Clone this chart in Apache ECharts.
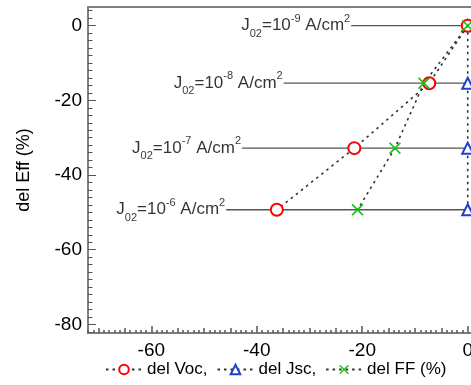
<!DOCTYPE html>
<html>
<head>
<meta charset="utf-8">
<script src="https://cdn.jsdelivr.net/npm/echarts@6.0.0/dist/echarts.min.js"></script>
<style>
  html, body { margin: 0; padding: 0; background: #fff; }
  #chart { width: 471px; height: 385px; }
</style>
</head>
<body>
<div id="chart"></div>
<script>
// del Eff (%) for each J02 level
const levelY = [0, -15.4, -32.8, -49.3];
const levelExp = ["-9", "-8", "-7", "-6"];
// where the horizontal J02 line starts (x value)
const levelLineStart = [-22.1, -34.9, -42.8, -45.8];

const delVoc = [0, -7.3, -21.5, -36.2];
const delJsc = [0, 0, 0, 0];
const delFF = [0, -8.3, -13.8, -20.9];

const xMajor = [-60, -40, -20, 0];
const yMajor = [-80, -60, -40, -20, 0];

function range(a, b, step) {
  const out = [];
  for (let v = a; v <= b + 1e-9; v += step) out.push(v);
  return out;
}
const xMid = range(-70, 0, 5);
const xMinor = range(-72, 0, 1);
const yMinor = range(-82, 4, 2);

const X_MIN = -72, X_MAX = 1;
const Y_MIN = -82.3, Y_MAX = 5;
const axisGray = "#808080";
const font = "Liberation Sans, Arial, sans-serif";

const pairs = (xs) => xs.map((x, i) => [x, levelY[i]]);

const dotted = { color: "#333", width: 1.6, type: [2.5, 4] };

// the bottom axis is three stacked layers so it gets 3 tick lengths
function xAxisLayer(ticks, len, labels) {
  return {
    type: "value", min: X_MIN, max: X_MAX, position: "bottom",
    axisLine: { show: true, onZero: false, lineStyle: { color: axisGray, width: 2 } },
    axisTick: { show: true, inside: true, length: len, customValues: ticks,
      lineStyle: { color: "#555", width: 1.5 } },
    axisLabel: labels
      ? { show: true, customValues: xMajor, color: "#000", fontSize: 19, fontFamily: font, margin: 8 }
      : { show: false },
    splitLine: { show: false }
  };
}

const lineSeries = levelY.map((y, i) => ({
  type: "line",
  data: [[levelLineStart[i], y], [0, y]],
  symbol: "none",
  silent: true,
  lineStyle: { color: "#555", width: 1.3, type: "solid" },
  z: 1
}));

const chart = echarts.init(document.getElementById("chart"));
chart.setOption({
  animation: false,
  grid: {
    left: 88, top: 7, right: -2, bottom: 52,
    outerBoundsMode: "none"
  },
  legend: {
    data: ["del Voc,", "del Jsc,", "del FF (%)"],
    left: 100, bottom: 2,
    itemWidth: 36, itemHeight: 12, itemGap: 9,
    textStyle: { fontSize: 17, fontFamily: font, color: "#000" }
  },
  xAxis: [
    xAxisLayer(xMajor, 7, true),
    xAxisLayer(xMid, 5, false),
    xAxisLayer(xMinor, 3, false),
    {
      // top frame line
      type: "value", min: X_MIN, max: X_MAX, position: "top",
      axisLine: { show: true, onZero: false, lineStyle: { color: axisGray, width: 2 } },
      axisTick: { show: false }, axisLabel: { show: false }, splitLine: { show: false }
    }
  ],
  yAxis: [
    {
      type: "value", min: Y_MIN, max: Y_MAX, position: "left",
      name: "del Eff (%)", nameLocation: "middle", nameGap: 55,
      nameTextStyle: { fontSize: 18, fontFamily: font, color: "#000" },
      axisLine: { show: true, onZero: false, lineStyle: { color: axisGray, width: 2 } },
      axisTick: { show: true, inside: true, length: 8, customValues: yMajor,
        lineStyle: { color: "#555", width: 1 } },
      axisLabel: { customValues: yMajor, color: "#000", fontSize: 19, fontFamily: font, margin: 6 },
      splitLine: { show: false }
    },
    {
      type: "value", min: Y_MIN, max: Y_MAX, position: "left",
      axisLine: { show: false, onZero: false },
      axisTick: { show: true, inside: true, length: 4.5, customValues: yMinor,
        lineStyle: { color: "#555", width: 1 } },
      axisLabel: { show: false },
      splitLine: { show: false }
    }
  ],
  series: [
    ...lineSeries,
    {
      type: "scatter",
      silent: true,
      symbolSize: 0,
      data: levelY.map((y, i) => ({ value: [levelLineStart[i], y], exp: levelExp[i] })),
      label: {
        show: true, position: "left", distance: 1,
        formatter: (p) => "{m|J}{sub|02}{m|=10}{sup|" + p.data.exp + "}{m| A/cm}{sup|2}",
        rich: {
          m: { fontSize: 17, fontFamily: font, color: "#000" },
          sub: { fontSize: 11, fontFamily: font, color: "#000", padding: [16, 0, 0, 0] },
          sup: { fontSize: 11, fontFamily: font, color: "#000", padding: [0, 0, 14, 0] }
        }
      },
      z: 2
    },
    {
      name: "del Jsc,", type: "line", data: pairs(delJsc),
      symbol: "emptyTriangle", symbolSize: 11,
      itemStyle: { color: "#1f3fd0", borderColor: "#1f3fd0", borderWidth: 2 },
      lineStyle: dotted, z: 3
    },
    {
      name: "del Voc,", type: "line", data: pairs(delVoc),
      symbol: "emptyCircle", symbolSize: 12,
      itemStyle: { color: "#ff0000", borderColor: "#ff0000", borderWidth: 2 },
      lineStyle: dotted, z: 4
    },
    {
      name: "del FF (%)", type: "line", data: pairs(delFF),
      symbol: "path://M0,1L1,0L5,4L9,0L10,1L6,5L10,9L9,10L5,6L1,10L0,9L4,5Z",
      symbolSize: 12,
      itemStyle: { color: "#19c419" },
      lineStyle: dotted, z: 5
    }
  ]
});
</script>
</body>
</html>
